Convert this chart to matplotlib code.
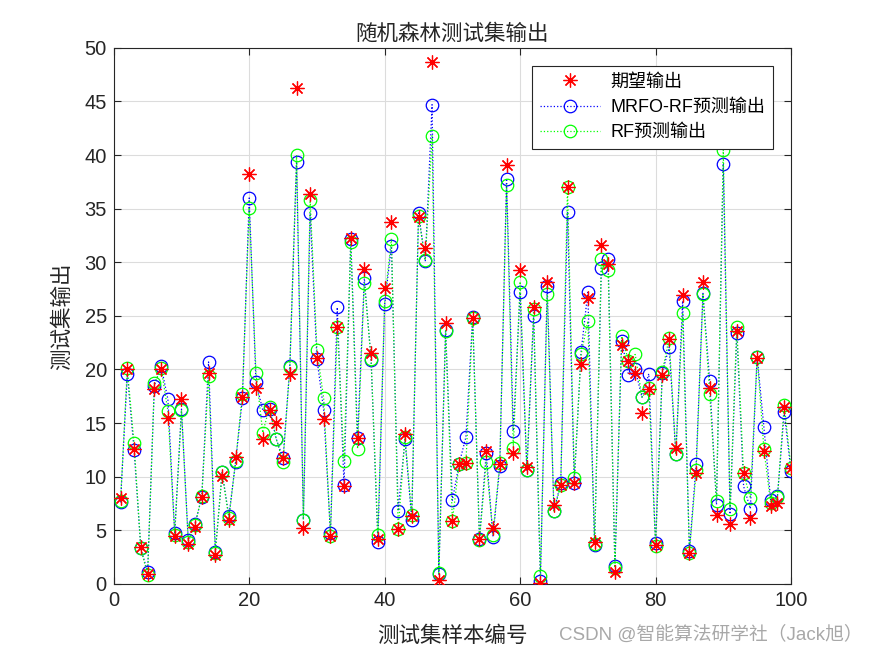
import numpy as np
import matplotlib.pyplot as plt

plt.rcParams['font.family'] = ['Liberation Sans', 'Noto Sans CJK SC']

# sample index 1..100
sample_idx = np.arange(1, 101)

# expected output (test set targets); no star is visible at sample 90
y_true = [8.0, 20.0, 12.6, 3.4, 0.9, 18.2, 20.0, 15.5, 4.5, 17.2,
          3.7, 5.3, 8.1, 19.7, 2.7, 10.1, 6.0, 11.8, 17.4, 38.2,
          18.3, 13.5, 16.2, 15.0, 11.7, 19.6, 46.3, 5.2, 36.4, 21.1,
          15.4, 4.5, 24.0, 9.1, 32.3, 13.6, 29.4, 21.5, 4.2, 27.6,
          33.8, 5.1, 14.0, 6.3, 34.2, 31.3, 48.7, 0.4, 24.3, 5.9,
          11.2, 11.3, 24.8, 4.2, 12.4, 5.2, 11.2, 39.1, 12.2, 29.3,
          10.9, 25.8, 0.1, 28.2, 7.4, 9.2, 37.0, 9.4, 20.5, 26.7,
          3.9, 31.6, 29.8, 1.1, 22.3, 20.8, 19.7, 15.9, 18.2, 3.6,
          19.5, 22.8, 12.7, 26.9, 2.9, 10.3, 28.2, 18.3, 6.4, np.nan,
          5.6, 23.6, 10.3, 6.1, 21.1, 12.4, 7.3, 7.5, 16.5, 10.8]

# MRFO-RF predictions
y_mrfo = [7.6, 19.6, 12.5, 3.3, 1.1, 18.5, 20.3, 17.2, 4.7, 16.3,
          4.1, 5.6, 8.1, 20.7, 3.0, 10.4, 6.3, 11.4, 17.3, 36.0,
          18.8, 16.2, 16.3, 13.5, 11.7, 20.3, 39.4, 6.0, 34.6, 21.0,
          16.2, 4.7, 25.8, 9.2, 32.2, 13.6, 28.5, 20.9, 3.9, 26.1,
          31.5, 6.8, 13.5, 6.0, 34.6, 30.1, 44.7, 0.9, 23.7, 7.8,
          11.2, 13.7, 24.9, 4.2, 12.2, 4.4, 11.0, 37.8, 14.3, 27.2,
          10.6, 25.0, 0.3, 27.8, 6.8, 9.4, 34.7, 9.4, 21.6, 27.2,
          3.6, 29.5, 30.3, 1.7, 22.7, 19.5, 20.0, 17.4, 19.6, 3.8,
          19.7, 22.1, 12.1, 26.4, 3.1, 11.2, 27.1, 18.9, 7.4, 39.2,
          6.5, 23.4, 9.1, 7.0, 21.2, 14.6, 7.8, 8.2, 16.0, 10.5]

# RF predictions
y_rf = [7.7, 20.1, 13.1, 3.3, 0.8, 18.7, 20.1, 16.1, 4.6, 16.2,
        3.9, 5.5, 8.2, 19.4, 2.9, 10.4, 6.1, 11.5, 17.7, 35.1,
        19.7, 14.1, 16.5, 13.5, 11.4, 20.2, 40.0, 6.0, 35.8, 21.8,
        17.3, 4.5, 24.0, 11.5, 31.9, 12.6, 28.1, 21.0, 4.6, 26.4,
        32.2, 5.1, 13.7, 6.4, 34.3, 30.2, 41.8, 1.0, 23.6, 5.9,
        11.2, 11.3, 24.8, 4.1, 11.4, 4.6, 11.3, 37.2, 12.7, 28.2,
        10.6, 25.6, 0.7, 27.0, 6.8, 9.2, 37.0, 9.9, 21.4, 24.5,
        3.7, 30.3, 29.3, 1.5, 23.1, 20.8, 21.4, 17.4, 18.3, 3.5,
        19.8, 22.9, 12.1, 25.3, 2.9, 10.6, 27.0, 17.7, 7.7, 40.5,
        7.0, 24.0, 10.3, 8.0, 21.2, 12.6, 7.5, 8.1, 16.7, 10.8]

fig = plt.figure(figsize=(8.75, 6.56), dpi=100)
ax = fig.add_axes([0.130, 0.110, 0.774, 0.817])

# MATLAB style '*' is an 8 armed asterisk
star = (8, 2, 0)

ax.plot(sample_idx, y_mrfo, color='blue', linestyle=':', linewidth=0.9,
        marker='o', markersize=9, markerfacecolor='none',
        markeredgewidth=0.9, label='MRFO-RF预测输出', zorder=3)
ax.plot(sample_idx, y_rf, color=(0, 1, 0), linestyle=':', linewidth=0.9,
        marker='o', markersize=9, markerfacecolor='none',
        markeredgewidth=0.9, label='RF预测输出', zorder=3)
ax.plot(sample_idx, y_true, color='red', linestyle='none', marker=star,
        markersize=10, markeredgewidth=0.9, label='期望输出', zorder=4)

ax.set_xlim(0, 100)
ax.set_ylim(0, 50)
ax.set_xticks(np.arange(0, 101, 20))
ax.set_yticks(np.arange(0, 51, 5))
ax.grid(True, color='#dcdcdc', linewidth=0.8)
ax.set_axisbelow(True)
ax.tick_params(direction='in', top=True, right=True, labelsize=14.5,
               length=5, width=0.8, colors='#262626', pad=5)
for sp in ax.spines.values():
    sp.set_color('#262626')
    sp.set_linewidth(0.8)

ax.set_title('随机森林测试集输出', fontsize=15.5, color='#262626', pad=6)
ax.set_xlabel('测试集样本编号', fontsize=15.5, color='#262626', labelpad=12)
ax.set_ylabel('测试集输出', fontsize=15.5, color='#262626', labelpad=8)

handles, labels = ax.get_legend_handles_labels()
order = [2, 0, 1]
leg = ax.legend([handles[i] for i in order], [labels[i] for i in order],
                loc='upper right', bbox_to_anchor=(0.974, 0.967),
                fontsize=13, fancybox=False, framealpha=1,
                edgecolor='#262626', handlelength=3.3, borderpad=0.45,
                labelspacing=0.45, handletextpad=0.6, borderaxespad=0)
leg.get_frame().set_linewidth(0.8)

fig.text(0.986, 0.018, 'CSDN @智能算法研学社（Jack旭）', ha='right',
         va='bottom', fontsize=13.5, color='#a8a8a8')

fig.savefig('out.png', dpi=100)
